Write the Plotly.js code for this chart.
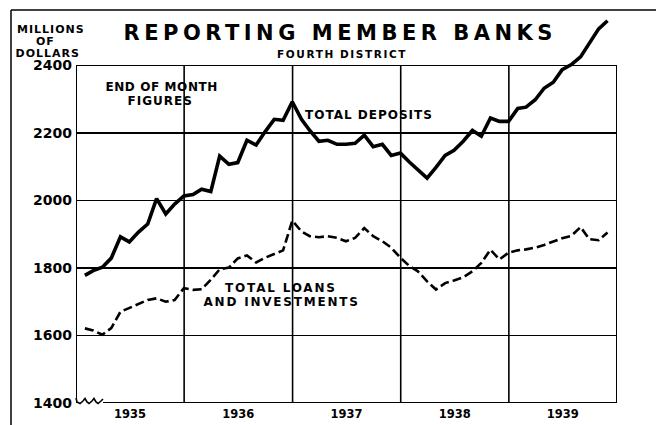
<!DOCTYPE html>
<html>
<head>
<meta charset="utf-8">
<script src="https://cdn.plot.ly/plotly-3.0.1.min.js"></script>
<style>
body{margin:0;padding:0;background:#fff;}
#chart{width:656px;height:425px;}
</style>
</head>
<body>
<div id="chart"></div>
<script>
// ---- data (end-of-month figures, millions of dollars) ----
const years = [1935, 1936, 1937, 1938, 1939];
const yearLabels = ['1935', '1936', '1937', '1938', '1939'];
const yTicks = [1400, 1600, 1800, 2000, 2200, 2400];

const totalDeposits = [
  1778, 1792, 1802, 1829, 1892, 1877, 1906, 1930, 2005, 1960, 1989, 2013,
  2017, 2033, 2026, 2131, 2107, 2112, 2178, 2164, 2203, 2240, 2237, 2292,
  2240, 2207, 2175, 2178, 2166, 2166, 2169, 2193, 2159, 2166, 2133, 2140,
  2113, 2092, 2066, 2098, 2133, 2148, 2175, 2207, 2190, 2244, 2234, 2234,
  2272, 2276, 2298, 2332, 2350, 2387, 2402, 2425, 2465, 2508, 2532
];
const totalLoansInvestments = [
  1621, 1615, 1602, 1622, 1670, 1682, 1695, 1705, 1710, 1700, 1705, 1740,
  1735, 1737, 1765, 1796, 1801, 1828, 1837, 1816, 1830, 1842, 1852, 1940,
  1908, 1894, 1891, 1894, 1889, 1879, 1889, 1918, 1894, 1879, 1860, 1830,
  1805, 1790, 1760, 1736, 1755, 1763, 1772, 1790, 1815, 1854, 1825, 1845,
  1852, 1855, 1860, 1868, 1878, 1888, 1895, 1921, 1885, 1882, 1905
];

// month-end dates for the series
function monthEnd(k) {
  const y = years[0] + Math.floor(k / 12);
  const m = k % 12;
  const d = new Date(Date.UTC(y, m + 1, 0));
  return d.toISOString().slice(0, 10);
}
const datesDep = totalDeposits.map((_, k) => monthEnd(k));
const datesLoan = totalLoansInvestments.map((_, k) => monthEnd(k));

// ---- geometry helpers (pixel -> paper) ----
const PL = 76, PR = 617, PT = 15, PB = 403;
const px = x => (x - PL) / (PR - PL);
const py = y => (PB - y) / (PB - PT);

const FONT = 'DejaVu Sans, sans-serif';
const yearStarts = years.map(y => y + '-01-01').concat([(years[years.length - 1] + 1) + '-01-01']);
const midYears = years.map(y => y + '-07-02');

const traces = [
  {
    x: datesDep, y: totalDeposits, type: 'scatter', mode: 'lines',
    line: {color: '#000', width: 3.6, shape: 'linear'},
    name: 'TOTAL DEPOSITS', hoverinfo: 'x+y', cliponaxis: false
  },
  {
    x: datesLoan, y: totalLoansInvestments, type: 'scatter', mode: 'lines',
    line: {color: '#000', width: 2.6, dash: '9px,4px'},
    name: 'TOTAL LOANS AND INVESTMENTS', hoverinfo: 'x+y'
  }
];

const shapes = [];
// cover the 1400 line where the axis break is drawn
shapes.push({type: 'rect', xref: 'paper', yref: 'paper', x0: px(76.5), x1: px(104), y0: py(407), y1: py(398),
  fillcolor: '#fff', line: {width: 0}, layer: 'above'});
// vertical year lines & frame sides
yearStarts.forEach((d, i) => {
  shapes.push({type: 'line', xref: 'x', yref: 'y', x0: d, x1: d, y0: yTicks[0], y1: yTicks[yTicks.length - 1],
    line: {color: '#000', width: (i === 0 || i === yearStarts.length - 1) ? 2 : 1.6}, layer: 'above'});
});
// bottom line (after the break)
shapes.push({type: 'line', xref: 'paper', yref: 'y', x0: px(103), x1: 1, y0: yTicks[0], y1: yTicks[0],
  line: {color: '#000', width: 2}, layer: 'above'});
// axis break squiggle (pixel points, converted to paper coordinates)
const sq = [[76,398],[77,402],[80,403.5],[83,401],[85,398.5],[87,402],[89,403.5],[92,401],[94,398.5],[96,402],[98,403.5],[101,401],[103,399]];
shapes.push({type: 'path', xref: 'paper', yref: 'paper',
  path: sq.map((p, i) => (i ? 'L' : 'M') + px(p[0]).toFixed(5) + ',' + py(p[1]).toFixed(5)).join(' '),
  line: {color: '#000', width: 1.6}, layer: 'above'});
// outer frame (top and left)
shapes.push({type: 'line', xref: 'paper', yref: 'paper', x0: px(11), x1: px(656), y0: py(10), y1: py(10),
  line: {color: '#000', width: 1.5}, layer: 'above'});
shapes.push({type: 'line', xref: 'paper', yref: 'paper', x0: px(11), x1: px(11), y0: py(10), y1: py(425),
  line: {color: '#000', width: 1.5}, layer: 'above'});

function ann(text, x, y, size, extra) {
  return Object.assign({
    text: text, xref: 'paper', yref: 'paper', x: px(x), y: py(y),
    xanchor: 'center', yanchor: 'middle', showarrow: false,
    font: {family: FONT, size: size, color: '#000', weight: 'bold'}
  }, extra || {});
}

const annotations = [
  ann('MILLIONS', 51, 30, 11),
  ann('OF', 45, 42, 11),
  ann('DOLLARS', 47, 54, 11),
  ann('REPORTING MEMBER BANKS', 340, 33, 21),
  ann('FOURTH DISTRICT', 342, 54, 10.5),
  ann('END OF MONTH', 161, 87, 12),
  ann('FIGURES', 160, 100.5, 12),
  ann('TOTAL DEPOSITS', 369, 115, 12),
  ann('TOTAL LOANS', 281, 287.5, 12),
  ann('AND INVESTMENTS', 281, 302, 12)
];

const layout = {
  width: 656, height: 425,
  margin: {l: PL, r: 656 - PR, t: PT, b: 425 - PB, pad: 0},
  paper_bgcolor: '#fff', plot_bgcolor: '#fff',
  showlegend: false,
  xaxis: {
    type: 'date', range: [yearStarts[0], yearStarts[yearStarts.length - 1]],
    tickmode: 'array', tickvals: midYears, ticktext: yearLabels,
    showgrid: false, zeroline: false, showline: false, ticks: '',
    tickfont: {family: FONT, size: 11.5, color: '#000', weight: 'bold'},
    ticklabelstandoff: 2, fixedrange: true
  },
  yaxis: {
    range: [1400, 1400 + (PB - PT) / ((PB - 65.3) / 1000)],
    tickmode: 'array', tickvals: yTicks, ticktext: yTicks.map(String),
    showgrid: true, gridcolor: '#000', gridwidth: 1.6,
    zeroline: false, showline: false, ticks: '',
    tickfont: {family: FONT, size: 14, color: '#000', weight: 'bold'},
    ticklabelstandoff: 3, fixedrange: true
  },
  shapes: shapes,
  annotations: annotations
};

Plotly.newPlot('chart', traces, layout, {displayModeBar: false, staticPlot: true}).then(() => {
  const spacing = {
    'REPORTING MEMBER BANKS': '4.5px',
    'MILLIONS': '1px', 'OF': '1px', 'DOLLARS': '1px',
    'FOURTH DISTRICT': '1.6px',
    'END OF MONTH': '0.6px', 'FIGURES': '1px',
    'TOTAL DEPOSITS': '1px', 'TOTAL LOANS': '1.8px', 'AND INVESTMENTS': '1.8px'
  };
  document.querySelectorAll('.annotation-text').forEach(t => {
    const s = spacing[t.textContent];
    if (s) t.style.letterSpacing = s;
  });
});
</script>
</body>
</html>
